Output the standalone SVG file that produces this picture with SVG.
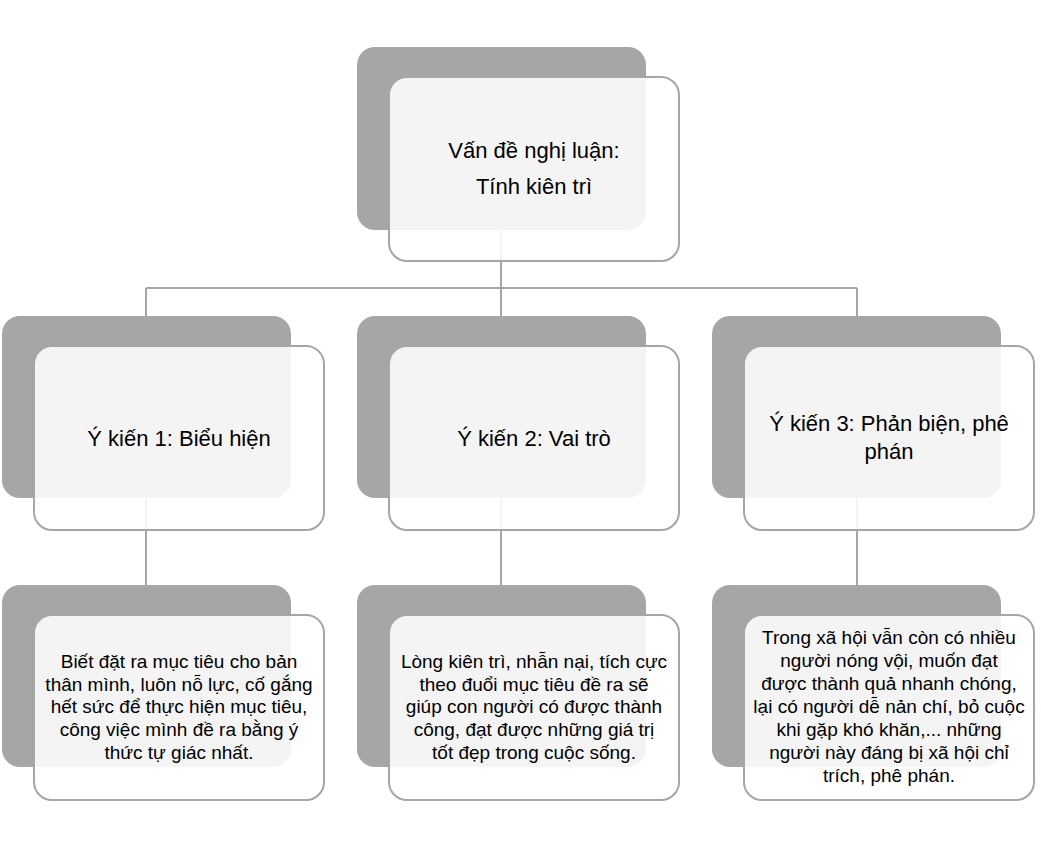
<svg xmlns="http://www.w3.org/2000/svg" width="1041" height="846" viewBox="0 0 1041 846">
<style>
.sh{fill:#a6a6a6}
.fr{fill:#ffffff;fill-opacity:0.88;stroke:#a6a6a6;stroke-width:2}
.ln{stroke:#a6a6a6;stroke-width:2;fill:none}
.t1{font-family:"Liberation Sans",Arial,sans-serif;font-size:22px;fill:#000;text-anchor:middle}
.t2{font-family:"Liberation Sans",Arial,sans-serif;font-size:19px;fill:#000;text-anchor:middle}
</style>
<rect width="1041" height="846" fill="#ffffff"/>
<g id="connectors">
<path class="ln" d="M501,230 V288 M146,288 H857 M146,288 V316 M501,288 V316 M857,288 V316"/>
<path class="ln" d="M146,498 V585 M501,498 V585 M857,498 V585"/>
</g>
<g id="root">
<rect class="sh" x="357" y="47" width="289" height="183" rx="18"/>
<rect class="fr" x="389" y="77" width="290" height="184" rx="18"/>
<text class="t1" x="534" y="158">Vấn đề nghị luận:</text>
<text class="t1" x="534" y="194">Tính kiên trì</text>
</g>
<g id="y1">
<rect class="sh" x="2" y="316" width="289" height="182" rx="18"/>
<rect class="fr" x="34" y="346" width="290" height="184" rx="18"/>
<text class="t1" x="179" y="446">Ý kiến 1: Biểu hiện</text>
</g>
<g id="y2">
<rect class="sh" x="357" y="316" width="289" height="182" rx="18"/>
<rect class="fr" x="389" y="346" width="290" height="184" rx="18"/>
<text class="t1" x="534" y="446">Ý kiến 2: Vai trò</text>
</g>
<g id="y3">
<rect class="sh" x="712" y="316" width="289" height="182" rx="18"/>
<rect class="fr" x="744" y="346" width="290" height="184" rx="18"/>
<text class="t1" x="889" y="431">Ý kiến 3: Phản biện, phê</text>
<text class="t1" x="889" y="459">phán</text>
</g>
<g id="d1">
<rect class="sh" x="2" y="585" width="289" height="182" rx="18"/>
<rect class="fr" x="34" y="615" width="290" height="185" rx="18"/>
<text class="t2" x="179" y="668">Biết đặt ra mục tiêu cho bản</text>
<text class="t2" x="179" y="691">thân mình, luôn nỗ lực, cố gắng</text>
<text class="t2" x="179" y="713">hết sức để thực hiện mục tiêu,</text>
<text class="t2" x="179" y="736">công việc mình đề ra bằng ý</text>
<text class="t2" x="179" y="759">thức tự giác nhất.</text>
</g>
<g id="d2">
<rect class="sh" x="357" y="585" width="289" height="182" rx="18"/>
<rect class="fr" x="389" y="615" width="290" height="185" rx="18"/>
<text class="t2" x="534" y="668">Lòng kiên trì, nhẫn nại, tích cực</text>
<text class="t2" x="534" y="691">theo đuổi mục tiêu đề ra sẽ</text>
<text class="t2" x="534" y="713">giúp con người có được thành</text>
<text class="t2" x="534" y="736">công, đạt được những giá trị</text>
<text class="t2" x="534" y="759">tốt đẹp trong cuộc sống.</text>
</g>
<g id="d3">
<rect class="sh" x="712" y="585" width="289" height="182" rx="18"/>
<rect class="fr" x="744" y="615" width="290" height="185" rx="18"/>
<text class="t2" x="889" y="644">Trong xã hội vẫn còn có nhiều</text>
<text class="t2" x="889" y="667">người nóng vội, muốn đạt</text>
<text class="t2" x="889" y="690">được thành quả nhanh chóng,</text>
<text class="t2" x="889" y="713">lại có người dễ nản chí, bỏ cuộc</text>
<text class="t2" x="889" y="736">khi gặp khó khăn,... những</text>
<text class="t2" x="889" y="759">người này đáng bị xã hội chỉ</text>
<text class="t2" x="889" y="782">trích, phê phán.</text>
</g>
</svg>
